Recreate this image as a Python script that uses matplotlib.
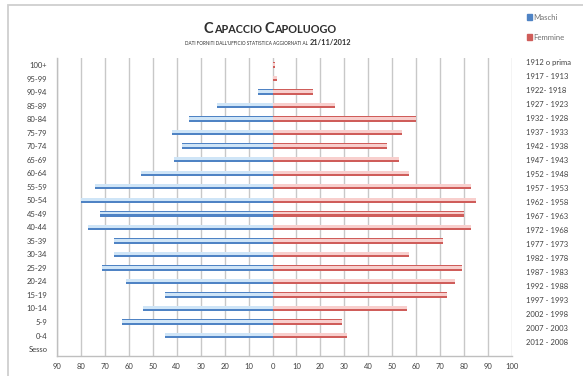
import matplotlib
matplotlib.use("Agg")
import numpy as np
import matplotlib.pyplot as plt
from matplotlib.ticker import FuncFormatter, MultipleLocator
from matplotlib.patches import Rectangle

plt.rcParams["font.family"] = ["Lato", "DejaVu Sans"]

# Fasce d'eta' (dall'alto verso il basso) e anni di nascita corrispondenti
fasce = ["100+", "95-99", "90-94", "85-89", "80-84", "75-79", "70-74", "65-69",
         "60-64", "55-59", "50-54", "45-49", "40-44", "35-39", "30-34", "25-29",
         "20-24", "15-19", "10-14", "5-9", "0-4", "Sesso"]
anni = ["1912 o prima", "1917 - 1913", "1922- 1918", "1927 - 1923", "1932 - 1928",
        "1937 - 1933", "1942 - 1938", "1947 - 1943", "1952 - 1948", "1957 - 1953",
        "1962 - 1958", "1967 - 1963", "1972 - 1968", "1977 - 1973", "1982 - 1978",
        "1987 - 1983", "1992 - 1988", "1997 - 1993", "2002 - 1998", "2007 - 2003",
        "2012 - 2008"]
maschi = [0, 0, 6, 23, 35, 42, 38, 41, 55, 74, 80, 72, 77, 66, 66, 71, 61, 45, 54, 63, 45]
femmine = [1, 2, 17, 26, 60, 54, 48, 53, 57, 83, 85, 80, 83, 71, 57, 79, 76, 73, 56, 29, 31]

fig = plt.figure(figsize=(5.83, 3.76), dpi=100)
fig.patch.set_facecolor("white")

# cornice del grafico
fig.add_artist(Rectangle((8 / 583, -0.1), 1.2, 0.1 + (1 - 5 / 376),
                         transform=fig.transFigure, fill=False,
                         edgecolor="#cfcfcf", lw=1.3))

ax = fig.add_axes([57 / 583, 1 - 355.8 / 376, 455 / 583, 297.5 / 376])
pos = np.arange(len(maschi))
m = -np.array(maschi)
f = np.array(femmine)

# barre "cilindriche": base scura + riflesso chiaro in alto
ax.barh(pos, m, height=0.40, color="#4f83c4", zorder=3)
ax.barh(pos - 0.06, m, height=0.22, color="#cfe5f7", zorder=4)
ax.barh(pos, f, height=0.40, color="#cf5d5a", zorder=3)
ax.barh(pos - 0.06, f, height=0.22, color="#f8cfcd", zorder=4)

ax.set_xlim(-90, 100)
ax.set_ylim(len(fasce) - 0.5, -0.5)
ax.xaxis.set_major_locator(MultipleLocator(10))
ax.xaxis.set_major_formatter(FuncFormatter(lambda v, p: f"{abs(int(round(v)))}"))
ax.set_yticks(np.arange(len(fasce)))
ax.set_yticklabels(fasce)
ax.grid(axis="x", color="#c8c8c8", lw=1.0, zorder=0)
for s in ["top", "right"]:
    ax.spines[s].set_visible(False)
for s in ["left", "bottom"]:
    ax.spines[s].set_color("#bfbfbf")
    ax.spines[s].set_linewidth(1.0)
ax.tick_params(axis="x", length=0, labelsize=5.5, labelcolor="#404040", pad=5)
ax.tick_params(axis="y", length=0, labelsize=5.5, labelcolor="#404040", pad=7)

# anni di nascita sull'asse destro
ax2 = ax.twinx()
ax2.set_ylim(20 + 14.1 / 13.97, -4.0 / 13.97)
ax2.set_yticks(np.arange(len(anni)))
ax2.set_yticklabels(anni)
ax2.tick_params(axis="y", length=0, labelsize=5.5, labelcolor="#404040", pad=10)
for s in ax2.spines.values():
    s.set_visible(False)

fig.canvas.draw()
renderer = fig.canvas.get_renderer()


def testo_a_pezzi(xc, y, pezzi, **kw):
    # scrive una riga composta da piu' pezzi (dimensione/peso diversi), centrata in xc
    arts = []
    for t, size, weight in pezzi:
        a = fig.text(0, y, t, fontsize=size, fontweight=weight, va="baseline",
                     ha="left", **kw)
        arts.append(a)
    widths = [a.get_window_extent(renderer).width / fig.bbox.width for a in arts]
    x = xc - sum(widths) / 2
    for a, w in zip(arts, widths):
        a.set_x(x)
        x += w


testo_a_pezzi(270 / 583, 1 - 33 / 376,
              [("C", 10.5, "bold"), ("APACCIO ", 7.8, "bold"),
               ("C", 10.5, "bold"), ("APOLUOGO", 7.8, "bold")],
              color="#2e2e2e")
testo_a_pezzi(268 / 583, 1 - 45 / 376,
              [("DATI FORNITI DALL'UFFICIO STATISTICA AGGIORNATI AL ", 3.3, "normal"),
               ("21/11/2012", 5.3, "bold")],
              color="#2e2e2e")

# legenda
for yy, col, lab in [(17, "#4f83c4", "Maschi"), (37, "#cf5d5a", "Femmine")]:
    fig.add_artist(Rectangle((527 / 583, 1 - (yy + 2.5) / 376), 5 / 583, 5 / 376,
                             transform=fig.transFigure, color=col))
    fig.text(533 / 583, 1 - yy / 376, lab, fontsize=5.6, color="#6f6f6f",
             va="center", ha="left")

fig.savefig("out.png", dpi=100)
